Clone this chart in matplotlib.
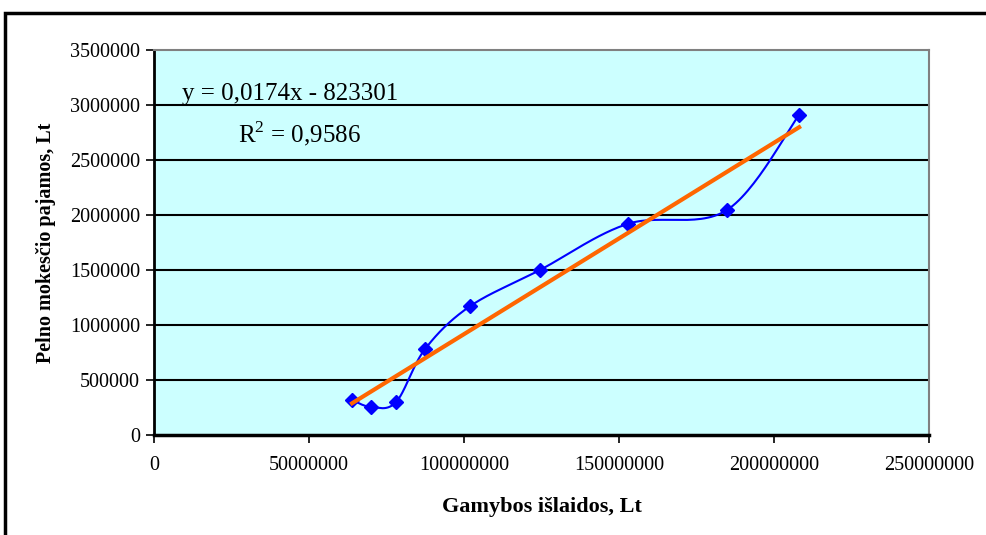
import numpy as np
import matplotlib
matplotlib.use("Agg")
import matplotlib.pyplot as plt
from matplotlib.patches import Rectangle

# production costs (Lt) vs profit tax revenue (Lt)
costs = [63.9e6, 70.0e6, 78.1e6, 87.4e6, 101.9e6, 124.5e6, 152.9e6, 184.8e6, 208.1e6]
tax = [318000, 255000, 300000, 780000, 1170000, 1500000, 1920000, 2045000, 2910000]

slope = 0.0174
intercept = -823301
eq_text = "y = 0,0174x - 823301"
r2_text = r"R$^{\mathrm{2}}$ = 0,9586"

x_ticks = [0, 50000000, 100000000, 150000000, 200000000, 250000000]
y_ticks = [0, 500000, 1000000, 1500000, 2000000, 2500000, 3000000, 3500000]


def smooth(xs, ys, n=30):
    # bezier smoothing through the points, the same way spreadsheet charts do it
    pts = np.column_stack([xs, ys]).astype(float)
    pts = np.vstack([pts[0], pts, pts[-1]])
    out = []
    for i in range(1, len(pts) - 2):
        p0, p1, p2, p3 = pts[i - 1], pts[i], pts[i + 1], pts[i + 2]
        c1 = p1 + (p2 - p0) / 6
        c2 = p2 - (p3 - p1) / 6
        t = np.linspace(0, 1, n)[:, None]
        seg = (1 - t) ** 3 * p1 + 3 * (1 - t) ** 2 * t * c1 + 3 * (1 - t) * t ** 2 * c2 + t ** 3 * p2
        out.append(seg)
    out = np.vstack(out)
    return out[:, 0], out[:, 1]


plt.rcParams['font.family'] = ['Liberation Serif', 'DejaVu Serif']
plt.rcParams['mathtext.fontset'] = 'custom'
plt.rcParams['mathtext.rm'] = 'Liberation Serif'

fig = plt.figure(figsize=(9.86, 5.35), dpi=100)
ax = fig.add_axes([154 / 986, 1 - 435 / 535, 775 / 986, 385 / 535])
ax.set_facecolor('#CCFFFF')

for yv in y_ticks[1:-1]:
    ax.axhline(yv, color='black', lw=1.5, zorder=1)

sx, sy = smooth(costs, tax)
ax.plot(sx, sy, color='#0000FF', lw=1.5, zorder=3)
ax.plot(costs, tax, linestyle='none', marker='D', color='#0000FF', ms=7, zorder=4)

tx = np.array([min(costs), max(costs)])
ax.plot(tx, slope * tx + intercept, color='#FF6600', lw=3, zorder=5)

ax.text(44e6, 3.1e6, eq_text, fontsize=18, ha='center', va='center', zorder=6)
ax.text(47e6, 2.74e6, r2_text, fontsize=18, ha='center', va='center', zorder=6)

ax.set_xlim(0, 250000000)
ax.set_ylim(0, 3500000)
ax.set_xticks(x_ticks)
ax.set_yticks(y_ticks)
ax.set_xticklabels([str(v) for v in x_ticks], fontsize=14.5)
ax.set_yticklabels([str(v) for v in y_ticks], fontsize=14.5)
ax.tick_params(axis='both', direction='out', length=6, width=1.2, color='black')
ax.tick_params(axis='x', pad=9)
ax.tick_params(axis='y', pad=4)

ax.spines['left'].set_linewidth(2)
ax.spines['bottom'].set_linewidth(2.5)
ax.spines['top'].set_color('#808080')
ax.spines['right'].set_color('#808080')
ax.spines['top'].set_linewidth(1.5)
ax.spines['right'].set_linewidth(1.5)

ax.set_xlabel("Gamybos išlaidos, Lt", fontsize=16, fontweight='bold', labelpad=16)
ax.set_ylabel("Pelno mokesčio pajamos, Lt", fontsize=14.5, fontweight='bold', labelpad=10)

# outer chart frame
fig.patches.append(Rectangle((5 / 986, -0.1), 1.2, 1 - 13 / 535 + 0.1,
                             transform=fig.transFigure, fill=False,
                             edgecolor='black', lw=2.5))

fig.savefig("out.png", dpi=100)
